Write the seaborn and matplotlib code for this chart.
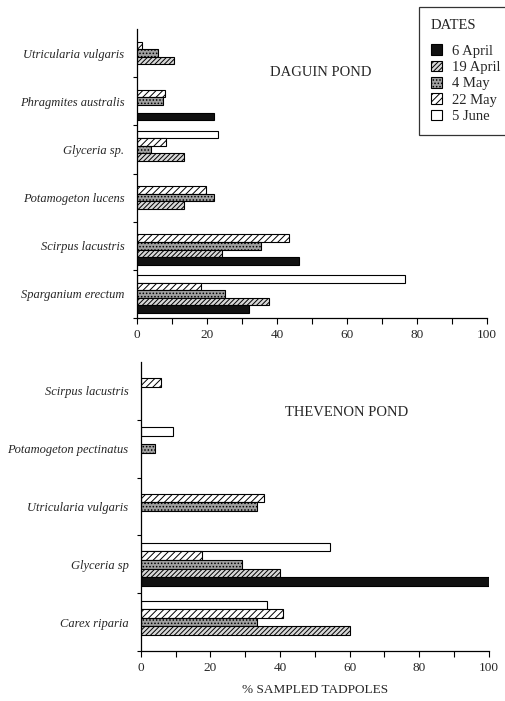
import matplotlib
matplotlib.use("Agg")
import matplotlib.pyplot as plt
import seaborn as sns
import pandas as pd
import numpy as np
from matplotlib.patches import Patch
from matplotlib.colors import to_hex

sns.set_theme(style="white")
plt.rcParams['font.family'] = ['Liberation Serif', 'DejaVu Serif']
plt.rcParams['hatch.linewidth'] = 0.7

dates = ["6 April", "19 April", "4 May", "22 May", "5 June"]

daguin_species = ["Utricularia vulgaris", "Phragmites australis", "Glyceria sp.",
                  "Potamogeton lucens", "Scirpus lacustris", "Sparganium erectum"]
daguin_6_april = [None, 21.9, None, None, 46.3, 32.0]
daguin_19_april = [10.5, None, 13.4, 13.5, 24.3, 37.8]
daguin_4_may = [6.0, 7.3, 4.1, 22.0, 35.4, 25.1]
daguin_22_may = [1.5, 8.1, 8.4, 19.8, 43.3, 18.2]
daguin_5_june = [None, None, 23.2, None, None, 76.6]

thevenon_species = ["Scirpus lacustris", "Potamogeton pectinatus", "Utricularia vulgaris",
                    "Glyceria sp", "Carex riparia"]
thevenon_6_april = [None, None, None, 100.0, None]
thevenon_19_april = [None, None, None, 39.9, 60.2]
thevenon_4_may = [None, 4.1, 33.4, 29.2, 33.4]
thevenon_22_may = [5.8, None, 35.3, 17.5, 41.0]
thevenon_5_june = [None, 9.2, None, 54.3, 36.4]

x_ticks = [0, 20, 40, 60, 80, 100]


def long_form(species, series):
    rows = []
    for d, vals in zip(dates, series):
        for s, v in zip(species, vals):
            if v is not None:
                rows.append({"species": s, "date": d, "pct": v})
    return pd.DataFrame(rows)


df_daguin = long_form(daguin_species, [daguin_6_april, daguin_19_april, daguin_4_may,
                                       daguin_22_may, daguin_5_june])
df_thevenon = long_form(thevenon_species, [thevenon_6_april, thevenon_19_april, thevenon_4_may,
                                           thevenon_22_may, thevenon_5_june])

# distinct key colours used only to identify bars, then restyled
key_colors = {"6 April": "#010101", "19 April": "#020202", "4 May": "#030303",
              "22 May": "#040404", "5 June": "#050505"}
color_to_date = {to_hex(c): d for d, c in key_colors.items()}

styles = {
    "6 April": dict(facecolor="#111111", hatch=None),
    "19 April": dict(facecolor="#d8d8d8", hatch="///////"),
    "4 May": dict(facecolor="#a0a0a0", hatch="....."),
    "22 May": dict(facecolor="white", hatch="/////"),
    "5 June": dict(facecolor="white", hatch=None),
}

hue_order = dates[::-1]

fig = plt.figure(figsize=(5.06, 7.01), dpi=100)
ax1 = fig.add_axes([137 / 506, 1 - 318 / 701, 350 / 506, 289 / 701])
ax2 = fig.add_axes([141 / 506, 1 - 651 / 701, 347.5 / 506, 289 / 701])


def draw(ax, df, species, width, pad):
    sns.barplot(data=df, y="species", x="pct", hue="date", order=species,
                hue_order=hue_order, palette=key_colors, orient="h", width=width,
                ax=ax, legend=False, errorbar=None, saturation=1)
    for p in ax.patches:
        d = color_to_date.get(to_hex(p.get_facecolor()))
        if d is None:
            continue
        st = styles[d]
        p.set_facecolor(st["facecolor"])
        p.set_edgecolor("black")
        p.set_linewidth(0.8)
        if st["hatch"]:
            p.set_hatch(st["hatch"])
    n = len(species)
    ax.set_xlim(0, 100)
    ax.set_ylim(n - 0.5, -0.5)
    ax.set_xticks(x_ticks)
    ax.set_xticks(np.arange(10, 100, 20), minor=True)
    ax.set_yticks(np.arange(n))
    ax.set_yticklabels(species, fontstyle="italic", fontsize=9)
    ax.set_yticks(np.arange(n) + 0.5, minor=True)
    ax.tick_params(axis="y", which="major", length=0, pad=pad)
    ax.tick_params(axis="y", which="minor", left=True, length=3, width=0.8, color="black")
    ax.tick_params(axis="x", which="both", bottom=True, direction="out", length=4,
                   width=0.8, color="black", labelsize=9.5, pad=4)
    for side in ["top", "right"]:
        ax.spines[side].set_visible(False)
    for side in ["left", "bottom"]:
        ax.spines[side].set_color("black")
        ax.spines[side].set_linewidth(0.9)
    ax.set_ylabel("")
    ax.set_xlabel("")
    ax.grid(False)


draw(ax1, df_daguin, daguin_species, 0.78, 9)
draw(ax2, df_thevenon, thevenon_species, 0.74, 9)

ax2.set_xlabel("% SAMPLED TADPOLES", fontsize=9.5, labelpad=7)

fig.text(321 / 506, 1 - 73 / 701, "DAGUIN POND", ha="center", va="center", fontsize=10.5)
fig.text(347 / 506, 1 - 413 / 701, "THEVENON POND", ha="center", va="center", fontsize=10.5)

handles = [Patch(facecolor=styles[d]["facecolor"], edgecolor="black", linewidth=0.8,
                 hatch=styles[d]["hatch"]) for d in dates]
leg = fig.legend(handles, dates, title="DATES", loc="upper left",
                 bbox_to_anchor=(419 / 506, 1 - 7 / 701), frameon=True, fancybox=False,
                 edgecolor="black", alignment="left", fontsize=10.5, title_fontsize=10.5,
                 handlelength=0.75, handleheight=0.75, handletextpad=0.7,
                 labelspacing=0.2, borderpad=0.8, borderaxespad=0)
leg.get_frame().set_linewidth(0.9)
leg._legend_box.sep = 9

fig.savefig("out.png", dpi=100)
